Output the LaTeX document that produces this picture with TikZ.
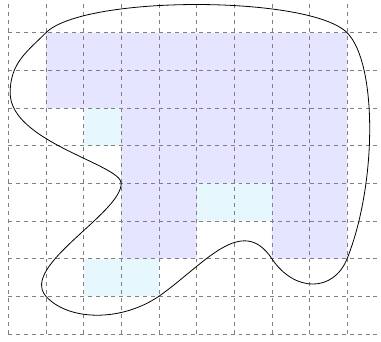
\documentclass[tikz,border=0pt]{standalone}
\begin{document}
\begin{tikzpicture}[x=1cm,y=1cm,
  bluecell/.style={fill=blue!10},
  cyancell/.style={fill=cyan!10},
  gridline/.style={gray, dashed},
  region/.style={black, semithick}]
\useasboundingbox (-0.22,-0.21) rectangle (9.9,8.87);
\fill[bluecell] (1,8) -- (9,8) -- (9,2) -- (7,2) -- (7,3) -- (5,3) -- (5,2) -- (3,2) -- (3,6) -- (1,6) -- cycle;
\fill[cyancell] (2,5) rectangle (3,6);
\fill[cyancell] (5,3) rectangle (7,4);
\fill[cyancell] (2,1) rectangle (4,2);
\draw[gridline] (0,0) grid (10,9);
\draw[region] (1,8) .. controls (2,9) and (8,9) .. (9,8)
  .. controls (9.8,7.2) and (9.8,4) .. (9,2)
  .. controls (8.64,1.1) and (7.6,1.1) .. (7,2)
  .. controls (6.2,3.2) and (5.2,1.84) .. (4,1)
  .. controls (3,0.32) and (1.6,0.34) .. (1,1)
  .. controls (0.3,1.8) and (3,3.2) .. (3,4)
  .. controls (3,4.5) and (0.05,5.1) .. (0.05,6.4)
  .. controls (0.05,7.2) and (0.5,7.5) .. cycle;
\end{tikzpicture}
\end{document}
